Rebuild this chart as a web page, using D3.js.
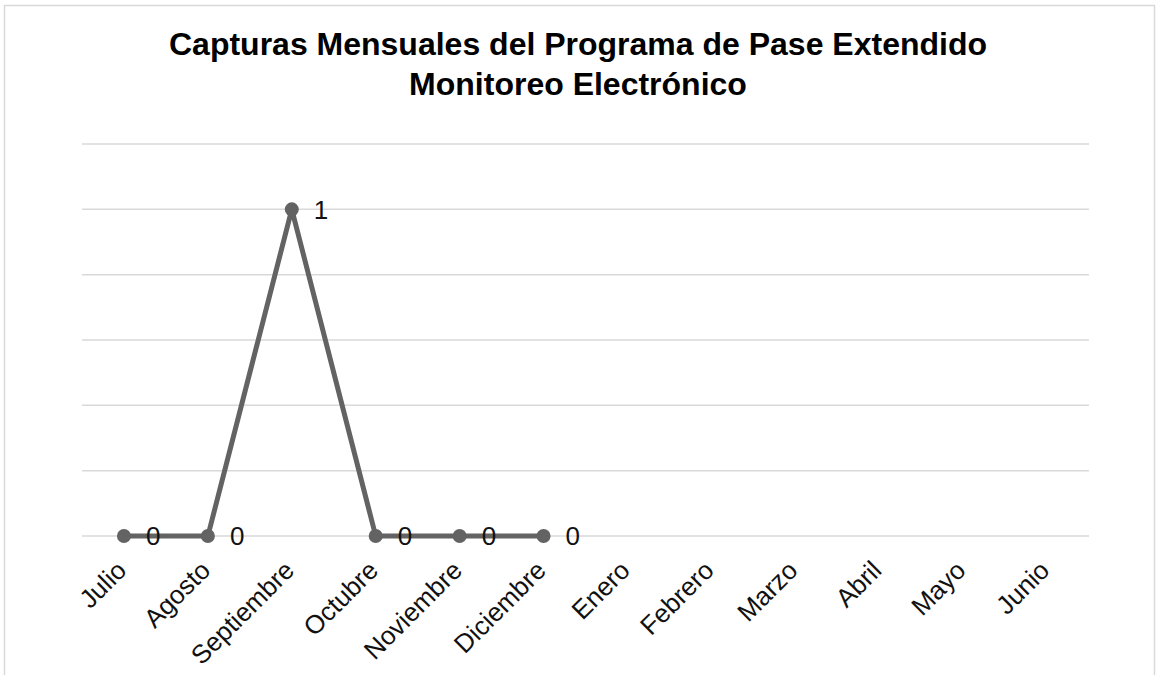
<!DOCTYPE html>
<html>
<head>
<meta charset="utf-8">
<script src="https://cdn.jsdelivr.net/npm/d3@7"></script>
<style>
  body { margin: 0; background: #fff; }
  svg { font-family: "Liberation Sans", Arial, sans-serif; }
</style>
</head>
<body>
<div id="chart-container"></div>
<script>
// chart data
var months = ["Julio", "Agosto", "Septiembre", "Octubre", "Noviembre", "Diciembre",
              "Enero", "Febrero", "Marzo", "Abril", "Mayo", "Junio"];
var capturas = [0, 0, 1, 0, 0, 0, null, null, null, null, null, null];
var yTicks = [0, 0.2, 0.4, 0.6, 0.8, 1, 1.2];
var titleLines = ["Capturas Mensuales del Programa de Pase Extendido", "Monitoreo Electrónico"];

var W = 1156, H = 675;
var margin = {top: 144, right: 67, bottom: 139, left: 82},
    width = W - margin.left - margin.right,
    height = H - margin.top - margin.bottom;

var svg = d3.select("#chart-container").append("svg")
    .attr("width", W)
    .attr("height", H);

// outer chart border (bottom edge falls outside the picture)
svg.append("rect")
    .attr("x", 4.5).attr("y", 5.5)
    .attr("width", 1150).attr("height", 700)
    .attr("fill", "none")
    .attr("stroke", "#d9d9d9")
    .attr("stroke-width", 1.5);

// title
svg.append("text")
    .attr("x", W / 2)
    .attr("text-anchor", "middle")
    .attr("font-weight", "bold")
    .attr("font-size", 32)
    .attr("fill", "#000")
  .selectAll("tspan")
  .data(titleLines)
  .enter().append("tspan")
    .attr("x", W / 2)
    .attr("y", function(d, i) { return 55 + i * 40; })
    .text(function(d) { return d; });

var g = svg.append("g")
    .attr("transform", "translate(" + margin.left + "," + margin.top + ")");

var x = d3.scaleBand().domain(months).range([0, width]);
var y = d3.scaleLinear().domain([0, 1.2]).range([height, 0]);

// gridlines
g.append("g")
  .selectAll("line")
  .data(yTicks)
  .enter().append("line")
    .attr("x1", 0).attr("x2", width)
    .attr("y1", function(d) { return y(d); })
    .attr("y2", function(d) { return y(d); })
    .attr("stroke", "#d9d9d9")
    .attr("stroke-width", 1.5);

// x axis labels, rotated
var xAxis = g.append("g")
    .attr("class", "x axis")
    .attr("transform", "translate(0," + height + ")")
    .call(d3.axisBottom(x).tickSize(0).tickPadding(0));
xAxis.select(".domain").remove();
xAxis.attr("font-size", null).attr("font-family", null);
xAxis.selectAll("text")
    .style("font-size", "26px")
    .style("font-family", "'Liberation Sans', Arial, sans-serif")
    .attr("fill", "#111")
    .attr("text-anchor", "end")
    .attr("dy", null)
    .attr("y", null)
    .attr("transform", "translate(4,36) rotate(-45)");

var pts = months.map(function(m, i) { return {m: m, v: capturas[i]}; })
    .filter(function(d) { return d.v !== null; });

var cx = function(d) { return x(d.m) + x.bandwidth() / 2; };

var line = d3.line()
    .x(cx)
    .y(function(d) { return y(d.v); });

g.append("path")
    .datum(pts)
    .attr("class", "line1")
    .attr("d", line)
    .attr("fill", "none")
    .attr("stroke", "#636363")
    .attr("stroke-width", 5)
    .attr("stroke-linejoin", "round");

g.selectAll(".dot")
    .data(pts)
    .enter().append("circle")
    .attr("class", "dot")
    .attr("cx", cx)
    .attr("cy", function(d) { return y(d.v); })
    .attr("r", 7)
    .attr("fill", "#636363");

// data labels
g.selectAll(".lbl")
    .data(pts)
    .enter().append("text")
    .attr("class", "lbl")
    .attr("x", function(d) { return cx(d) + 22; })
    .attr("y", function(d) { return y(d.v); })
    .attr("dy", "0.36em")
    .style("font-size", "26px")
    .attr("fill", "#111")
    .text(function(d) { return d.v; });
</script>
</body>
</html>
